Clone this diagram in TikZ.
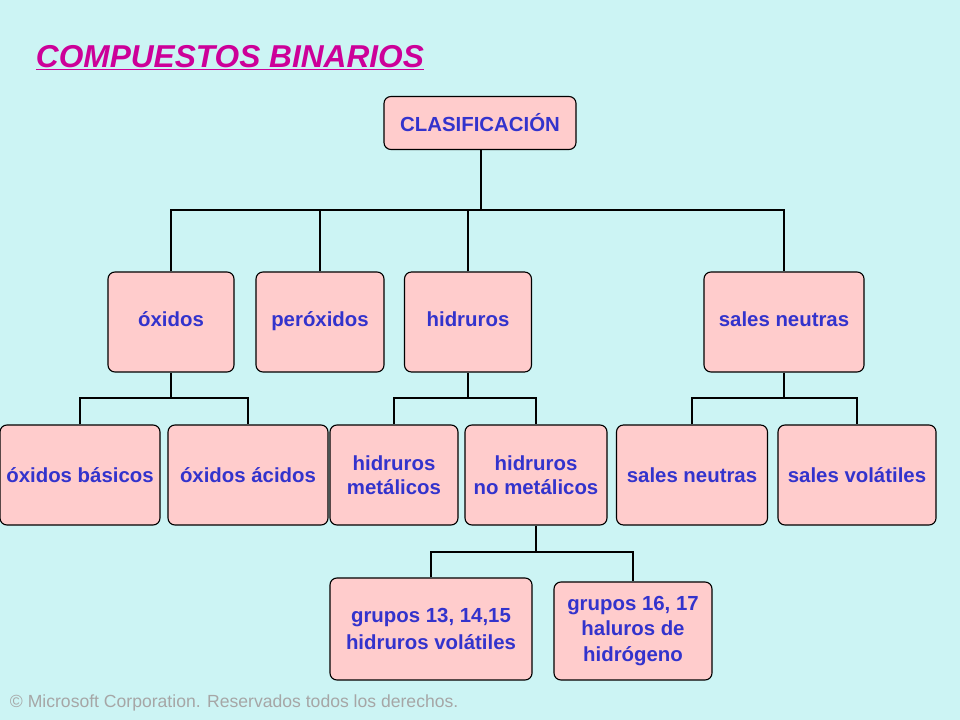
\documentclass[tikz,border=0pt]{standalone}
\usepackage{fontspec}
\setmainfont{Liberation Sans}
\usepackage{tikz}
\usetikzlibrary{positioning}
\definecolor{bgcyan}{HTML}{CCF4F4}
\definecolor{boxpink}{HTML}{FFCCCC}
\definecolor{txtblue}{HTML}{3333CC}
\definecolor{titlemag}{HTML}{CC0099}
\tikzset{
  clasbox/.style={draw=black, fill=boxpink, rounded corners=5pt, line width=0.8pt,
    text=txtblue, font=\fontsize{14.5}{17}\selectfont\bfseries, align=center,
    inner sep=0pt, minimum height=#1},
  clasbox/.default={2.5cm},
  bus/.style={line width=2.1pt, black}
}
\begin{document}
\begin{tikzpicture}[x=0.025cm, y=-0.025cm]
\fill[bgcyan] (0,0) rectangle (960,720);
\useasboundingbox (0,0) rectangle (960,720);

%% title
\node[anchor=west, text=titlemag, font=\fontsize{22.5}{26}\selectfont\bfseries\itshape] (title) at (31,58) {\underline{COMPUESTOS BINARIOS}};

%% top
\node[clasbox=1.325cm, minimum width=4.8cm] (clas) at (480,123) {CLASIFICACIÓN};

%% second row
\node[clasbox, minimum width=3.15cm] (oxidos) at (171,322) {\strut óxidos};
\node[clasbox, minimum width=3.2cm] (perox) at (320,322) {\strut peróxidos};
\node[clasbox, minimum width=3.175cm] (hidr) at (468,322) {\strut hidruros};
\node[clasbox, minimum width=4cm] (sales) at (784,322) {\strut sales neutras};

%% third row
\node[clasbox, minimum width=4cm] (oxbas) at (80,475) {óxidos básicos};
\node[clasbox, minimum width=4cm] (oxac) at (248,475) {óxidos ácidos};
\node[clasbox, minimum width=3.2cm] (hmet) at (394,475) {hidruros\\metálicos};
\node[clasbox, minimum width=3.55cm] (hnomet) at (536,475) {hidruros\\no metálicos};
\node[clasbox, minimum width=3.775cm] (sneu) at (692,475) {sales neutras};
\node[clasbox, minimum width=3.95cm] (svol) at (857,475) {sales volátiles};

%% fourth row
\node[clasbox=2.55cm, minimum width=5.05cm] (g13) at (431,629) {grupos 13, 14,15\\[2pt]hidruros volátiles};
\node[clasbox=2.45cm, minimum width=3.95cm] (g16) at (633,631) {grupos 16, 17\\[1pt]haluros de\\[1pt]hidrógeno};

%% connectors
\coordinate (b1) at (481,210);
\draw[bus] (clas.south -| b1) -- (b1);
\draw[bus] (oxidos.north) |- (b1) -| (sales.north);
\draw[bus] (perox.north) -- (perox.north |- b1);
\draw[bus] (hidr.north) -- (hidr.north |- b1);

\coordinate (b2) at (171,398);
\draw[bus] (oxidos.south) -- (b2);
\draw[bus] (oxbas.north) |- (b2) -| (oxac.north);

\coordinate (b3) at (468,398);
\draw[bus] (hidr.south) -- (b3);
\draw[bus] (hmet.north) |- (b3) -| (hnomet.north);

\coordinate (b4) at (784,398);
\draw[bus] (sales.south) -- (b4);
\draw[bus] (sneu.north) |- (b4) -| (svol.north);

\coordinate (b5) at (536,552);
\draw[bus] (hnomet.south) -- (b5);
\draw[bus] (g13.north) |- (b5) -| (g16.north);

%% footer
\node[anchor=west, text=gray!70, font=\fontsize{12.5}{14}\selectfont] (foot) at (5,703) {© Microsoft Corporation. Reservados todos los derechos.};
\end{tikzpicture}
\end{document}
